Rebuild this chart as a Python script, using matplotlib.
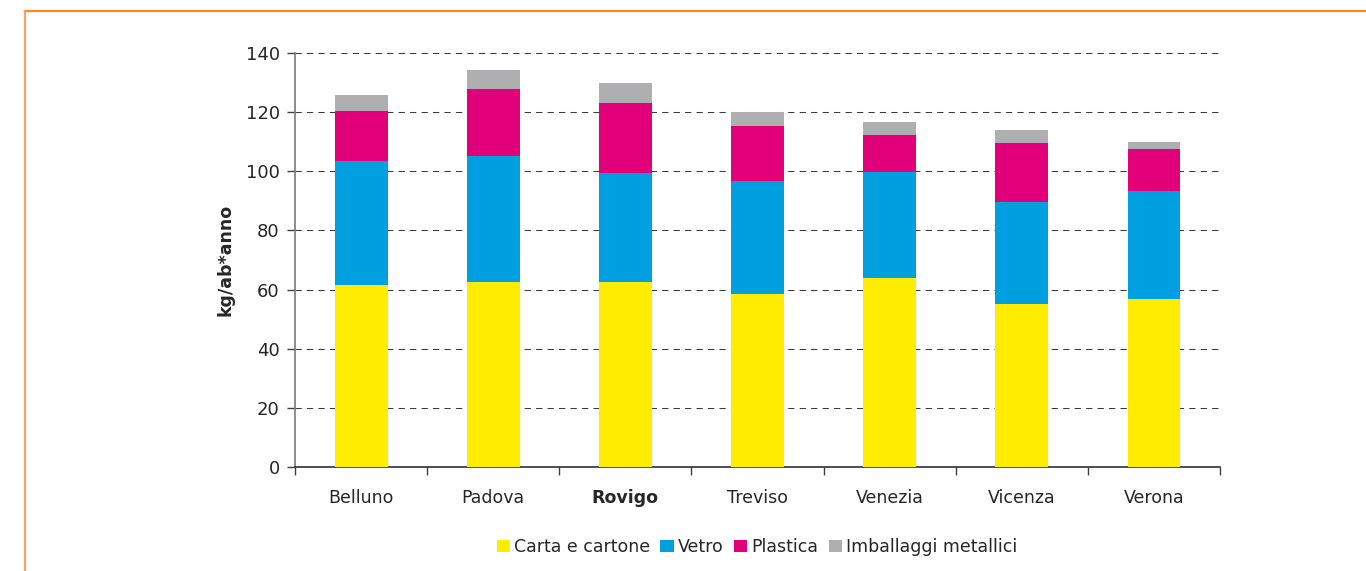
import matplotlib
matplotlib.use("Agg")
import matplotlib.pyplot as plt
from matplotlib.lines import Line2D
from matplotlib.patches import Patch
import numpy as np

provinces = ["Belluno", "Padova", "Rovigo", "Treviso", "Venezia", "Vicenza", "Verona"]
series_names = ["Carta e cartone", "Vetro", "Plastica", "Imballaggi metallici"]
carta = [61.5, 62.6, 62.6, 58.5, 63.9, 55.1, 56.8]
vetro = [42.0, 42.6, 36.8, 38.2, 36.0, 34.5, 36.5]
plastica = [16.9, 22.6, 23.7, 18.6, 12.4, 20.0, 14.2]
metallici = [5.4, 6.5, 6.8, 4.8, 4.4, 4.4, 2.4]
colors = ["#FFEC00", "#009FE0", "#E2007A", "#AFAFB1"]
y_ticks = [0, 20, 40, 60, 80, 100, 120, 140]

plt.rcParams["font.family"] = ["DejaVu Sans"]
text_color = "#262626"

fig = plt.figure(figsize=(13.66, 5.71), dpi=100)
ax = fig.add_axes([295 / 1366, 1 - 467 / 571, (1220 - 295) / 1366, (467 - 53) / 571])

x = np.arange(len(provinces))
bottom = np.zeros(len(provinces))
for vals, col in zip([carta, vetro, plastica, metallici], colors):
    ax.bar(x, vals, width=0.4, bottom=bottom, color=col, edgecolor="none", zorder=3)
    bottom += np.array(vals)

ax.set_xlim(-0.5, len(provinces) - 0.5)
ax.set_ylim(0, 140)
ax.set_yticks(y_ticks)
ax.yaxis.grid(True, color="#3a3a3a", linewidth=0.75, linestyle=(0, (6, 5)), zorder=1)
ax.set_axisbelow(True)

# category boundaries carry the tick marks, labels sit at bar centres
ax.set_xticks(np.arange(len(provinces) + 1) - 0.5)
ax.set_xticklabels([])
ax.set_xticks(x, minor=True)
ax.set_xticklabels(provinces, minor=True)
ax.tick_params(axis="x", which="major", direction="out", length=6, width=1, color="#404040")
ax.tick_params(axis="x", which="minor", length=0, pad=16, labelsize=12.5, labelcolor=text_color)
ax.tick_params(axis="y", direction="out", length=6, width=1, color="#404040",
               pad=5, labelsize=13, labelcolor=text_color)
for lbl in ax.get_xticklabels(minor=True):
    if lbl.get_text() == "Rovigo":
        lbl.set_fontweight("bold")

for side in ["top", "right"]:
    ax.spines[side].set_visible(False)
ax.spines["left"].set_color("#7a7a7a")
ax.spines["left"].set_linewidth(1.2)
ax.spines["bottom"].set_color("#303030")
ax.spines["bottom"].set_linewidth(1.2)

ax.set_ylabel("kg/ab*anno", fontsize=12.5, fontweight="bold", color=text_color, labelpad=8)

handles = [Patch(facecolor=c, edgecolor="none") for c in colors]
fig.legend(handles, series_names, loc="center", bbox_to_anchor=(757 / 1366, 1 - 547 / 571),
           ncol=4, frameon=False, fontsize=12.5, handlelength=0.75, handleheight=0.75,
           handletextpad=0.25, columnspacing=0.6, labelcolor=text_color)

# orange frame on the top and left edges
fx = 25 / 1366
fy = 1 - 11 / 571
fig.add_artist(Line2D([fx, 1.0], [fy, fy], color="#F08A2A", linewidth=1.6,
                      transform=fig.transFigure))
fig.add_artist(Line2D([fx, fx], [0.0, fy], color="#F5A565", linewidth=1.6,
                      transform=fig.transFigure))

fig.savefig("out.png", dpi=100)
